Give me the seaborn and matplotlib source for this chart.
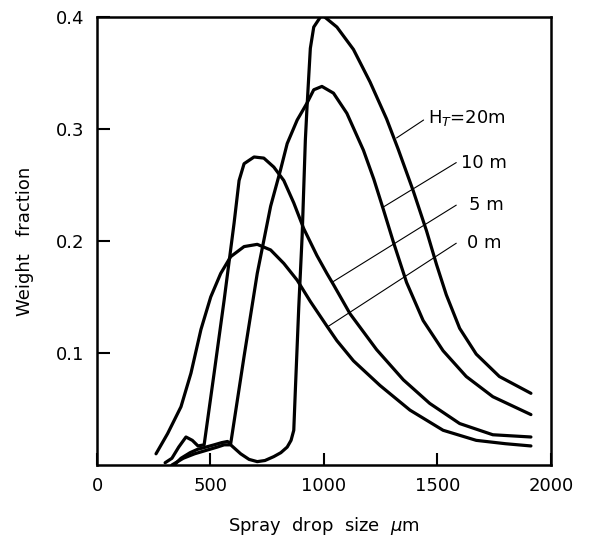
import numpy as np
import pandas as pd
import matplotlib
matplotlib.use("Agg")
import matplotlib.pyplot as plt
import seaborn as sns

# ---- data ----
x_0m = [260, 311, 370, 414, 458, 501, 545, 589, 648, 706, 765, 823, 882, 940, 1013,
        1057, 1130, 1247, 1379, 1525, 1671, 1800, 1912]
y_0m = [0.010, 0.028, 0.052, 0.082, 0.121, 0.150, 0.171, 0.186, 0.195, 0.197, 0.192, 0.180, 0.165, 0.146, 0.124,
        0.111, 0.093, 0.071, 0.049, 0.031, 0.022, 0.019, 0.017]

x_5m = [300, 330, 360, 392, 420, 445, 472, 516, 560, 604, 626, 648, 692, 735, 779, 823, 867,
        911, 969, 1013, 1042, 1115, 1232, 1350, 1466, 1598, 1744, 1912]
y_5m = [0.002, 0.006, 0.016, 0.025, 0.022, 0.017, 0.018, 0.082, 0.147, 0.216, 0.254, 0.269, 0.275, 0.274, 0.266, 0.254, 0.234,
        0.211, 0.187, 0.171, 0.161, 0.135, 0.103, 0.076, 0.055, 0.037, 0.027, 0.025]

x_10m = [340, 370, 410, 443, 480, 516, 550, 575, 589, 648, 706, 765, 808, 838, 882, 925, 955, 991,
         1042, 1101, 1174, 1220, 1262, 1306, 1364, 1437, 1525, 1627, 1744, 1912]
y_10m = [0.000, 0.006, 0.011, 0.014, 0.016, 0.018, 0.020, 0.021, 0.019, 0.097, 0.171, 0.231, 0.263, 0.287, 0.308, 0.323, 0.335, 0.338,
         0.332, 0.314, 0.281, 0.255, 0.228, 0.199, 0.163, 0.129, 0.102, 0.079, 0.061, 0.045]

x_20m = [330, 380, 430, 480, 530, 560, 589, 633, 670, 706, 740, 779, 810, 838, 855, 867, 874, 889, 904, 918,
         925, 933, 940, 955, 991, 1057, 1130, 1203, 1276, 1327, 1393, 1452, 1496, 1539, 1598, 1671, 1773, 1912]
y_20m = [0.000, 0.006, 0.010, 0.013, 0.016, 0.018, 0.018, 0.010, 0.005, 0.003, 0.004, 0.0075, 0.011, 0.016, 0.022, 0.031, 0.067, 0.141, 0.205, 0.290,
         0.318, 0.347, 0.372, 0.391, 0.402, 0.391, 0.371, 0.342, 0.309, 0.282, 0.245, 0.209, 0.179, 0.152, 0.122, 0.099, 0.079, 0.064]

series_names = ["0 m", "5 m", "10 m", "H$_T$=20m"]

xticks = [0, 500, 1000, 1500, 2000]
xtick_labels = ["0", "500", "1000", "1500", "2000"]
yticks = [0.1, 0.2, 0.3, 0.4]
ytick_labels = ["0.1", "0.2", "0.3", "0.4"]

df = pd.concat([
    pd.DataFrame({"x": x_0m, "y": y_0m, "s": series_names[0]}),
    pd.DataFrame({"x": x_5m, "y": y_5m, "s": series_names[1]}),
    pd.DataFrame({"x": x_10m, "y": y_10m, "s": series_names[2]}),
    pd.DataFrame({"x": x_20m, "y": y_20m, "s": series_names[3]}),
], ignore_index=True)

sns.set_style("ticks")
plt.rcParams["font.family"] = ["DejaVu Sans"]
plt.rcParams["text.color"] = "black"
plt.rcParams["axes.labelcolor"] = "black"
plt.rcParams["xtick.color"] = "black"
plt.rcParams["ytick.color"] = "black"

fig = plt.figure(figsize=(5.93, 5.39), dpi=100)
ax = fig.add_axes([0.1636, 0.1373, 0.929 - 0.1636, 0.9685 - 0.1373])

sns.lineplot(data=df, x="x", y="y", hue="s", units="s", estimator=None, sort=True,
             palette=["black"] * 4, linewidth=2.3, legend=False, ax=ax)
for ln in ax.get_lines():
    ln.set_solid_joinstyle("round")
    ln.set_solid_capstyle("round")

ax.set_xlim(0, 2000)
ax.set_ylim(0, 0.4)
ax.set_xticks(xticks)
ax.set_xticklabels(xtick_labels)
ax.set_yticks(yticks)
ax.set_yticklabels(ytick_labels)
ax.tick_params(axis="both", direction="in", length=9, width=1.5, labelsize=13, pad=9,
               colors="black", bottom=True, left=True, top=False, right=False)
for sp in ax.spines.values():
    sp.set_visible(True)
    sp.set_linewidth(1.8)
    sp.set_color("black")

ax.set_xlabel("Spray  drop  size  $\\mu$m", fontsize=13, labelpad=14, color="black")
ax.set_ylabel("Weight   fraction", fontsize=13, labelpad=16, color="black")

# leader lines and labels
leaders = [
    ((1320, 0.292), (1439, 0.308), (1460, 0.310), "H$_T$=20m"),
    ((1259, 0.230), (1583, 0.270), (1605, 0.270), "10 m"),
    ((1035, 0.163), (1583, 0.232), (1640, 0.232), "5 m"),
    ((1013, 0.123), (1583, 0.198), (1630, 0.198), "0 m"),
]
for (p0, p1, tp, txt) in leaders:
    ax.plot([p0[0], p1[0]], [p0[1], p1[1]], color="black", linewidth=0.8)
    ax.text(tp[0], tp[1], txt, fontsize=13, va="center", ha="left", color="black")

fig.savefig("out.png", dpi=100)
